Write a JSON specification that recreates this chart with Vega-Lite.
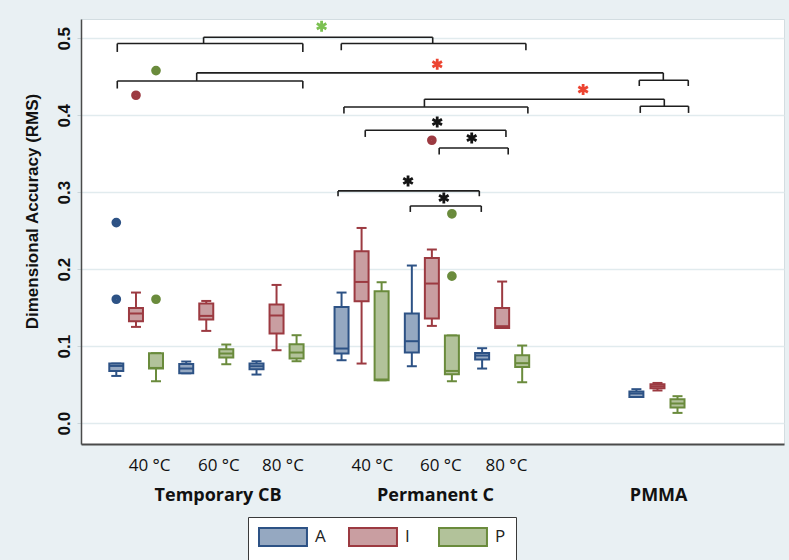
{
  "$schema": "https://vega.github.io/schema/vega-lite/v6.json",
  "width": 703,
  "height": 425,
  "autosize": {"type": "none"},
  "padding": {"left": 81, "top": 19, "right": 5, "bottom": 116},
  "config": {
    "background": "#e9f0f3",
    "view": {"fill": "white", "stroke": "#d3dde1", "strokeWidth": 1},
    "font": "Liberation Sans",
    "legend": {
      "title": null, "orient": "none", "direction": "horizontal", "legendX": 167, "legendY": 498,
      "strokeColor": "#3a3a3a", "fillColor": "white", "padding": 10, "gridAlign": "all",
      "symbolType": "M-1,-1H4.33V1H-1Z", "symbolSize": 324, "symbolStrokeWidth": 2, "symbolOpacity": 1,
      "labelFont": "Open Sans", "labelFontSize": 17, "labelColor": "#222222", "labelOffset": 37,
      "columnPadding": 19
    }
  },
  "datasets": {
    "boxes": [
      {"material": "Temporary CB", "temp": "40 °C", "series": "A", "pos": 0.72, "lo": 0.0614, "q1": 0.0679, "med": 0.0744, "q3": 0.0774, "hi": 0.0774},
      {"material": "Temporary CB", "temp": "40 °C", "series": "I", "pos": 1.0, "lo": 0.1251, "q1": 0.1325, "med": 0.1425, "q3": 0.1497, "hi": 0.1697},
      {"material": "Temporary CB", "temp": "40 °C", "series": "P", "pos": 1.285, "lo": 0.0545, "q1": 0.071, "med": 0.0718, "q3": 0.0909, "hi": 0.0909},
      {"material": "Temporary CB", "temp": "60 °C", "series": "A", "pos": 1.715, "lo": 0.0649, "q1": 0.0649, "med": 0.071, "q3": 0.077, "hi": 0.0801},
      {"material": "Temporary CB", "temp": "60 °C", "series": "I", "pos": 2.0, "lo": 0.1199, "q1": 0.1347, "med": 0.1394, "q3": 0.1555, "hi": 0.1588},
      {"material": "Temporary CB", "temp": "60 °C", "series": "P", "pos": 2.285, "lo": 0.0766, "q1": 0.0853, "med": 0.0905, "q3": 0.0961, "hi": 0.1022},
      {"material": "Temporary CB", "temp": "80 °C", "series": "A", "pos": 2.715, "lo": 0.0632, "q1": 0.0701, "med": 0.074, "q3": 0.0775, "hi": 0.0805},
      {"material": "Temporary CB", "temp": "80 °C", "series": "I", "pos": 3.0, "lo": 0.0948, "q1": 0.1165, "med": 0.1399, "q3": 0.1542, "hi": 0.1796},
      {"material": "Temporary CB", "temp": "80 °C", "series": "P", "pos": 3.285, "lo": 0.0805, "q1": 0.084, "med": 0.0918, "q3": 0.1026, "hi": 0.1143},
      {"material": "Permanent C", "temp": "40 °C", "series": "A", "pos": 3.925, "lo": 0.0818, "q1": 0.0905, "med": 0.097, "q3": 0.151, "hi": 0.1697},
      {"material": "Permanent C", "temp": "40 °C", "series": "I", "pos": 4.21, "lo": 0.0775, "q1": 0.1584, "med": 0.1835, "q3": 0.2234, "hi": 0.2536},
      {"material": "Permanent C", "temp": "40 °C", "series": "P", "pos": 4.495, "lo": 0.0558, "q1": 0.0558, "med": 0.0568, "q3": 0.1714, "hi": 0.1831},
      {"material": "Permanent C", "temp": "60 °C", "series": "A", "pos": 4.925, "lo": 0.074, "q1": 0.0918, "med": 0.1065, "q3": 0.1425, "hi": 0.2048},
      {"material": "Permanent C", "temp": "60 °C", "series": "I", "pos": 5.21, "lo": 0.1264, "q1": 0.136, "med": 0.1814, "q3": 0.2147, "hi": 0.2256},
      {"material": "Permanent C", "temp": "60 °C", "series": "P", "pos": 5.495, "lo": 0.0545, "q1": 0.0636, "med": 0.0679, "q3": 0.1139, "hi": 0.1139},
      {"material": "Permanent C", "temp": "80 °C", "series": "A", "pos": 5.925, "lo": 0.071, "q1": 0.0827, "med": 0.0879, "q3": 0.0913, "hi": 0.0974},
      {"material": "Permanent C", "temp": "80 °C", "series": "I", "pos": 6.21, "lo": 0.1238, "q1": 0.1238, "med": 0.126, "q3": 0.1497, "hi": 0.184},
      {"material": "Permanent C", "temp": "80 °C", "series": "P", "pos": 6.495, "lo": 0.0532, "q1": 0.0731, "med": 0.078, "q3": 0.0883, "hi": 0.1009},
      {"material": "PMMA", "temp": "", "series": "A", "pos": 8.12, "lo": 0.0342, "q1": 0.0342, "med": 0.0386, "q3": 0.0412, "hi": 0.0442},
      {"material": "PMMA", "temp": "", "series": "I", "pos": 8.42, "lo": 0.0425, "q1": 0.0455, "med": 0.048, "q3": 0.0506, "hi": 0.0523},
      {"material": "PMMA", "temp": "", "series": "P", "pos": 8.705, "lo": 0.0134, "q1": 0.0204, "med": 0.0256, "q3": 0.0312, "hi": 0.0351}
    ],
    "outliers": [
      {"series": "A", "pos": 0.72, "value": 0.2606},
      {"series": "A", "pos": 0.72, "value": 0.161},
      {"series": "I", "pos": 1.0, "value": 0.426},
      {"series": "P", "pos": 1.285, "value": 0.161},
      {"series": "P", "pos": 1.285, "value": 0.458},
      {"series": "I", "pos": 5.21, "value": 0.3675},
      {"series": "P", "pos": 5.495, "value": 0.272},
      {"series": "P", "pos": 5.495, "value": 0.191}
    ],
    "brackets": [
      {"x1": 0.734, "x2": 3.374, "y": 0.4931, "yl": 0.4822, "yr": 0.4822},
      {"x1": 3.921, "x2": 6.548, "y": 0.4931, "yl": 0.4844, "yr": 0.4844},
      {"x1": 1.962, "x2": 5.222, "y": 0.5013, "yl": 0.4931, "yr": 0.4931},
      {"x1": 0.734, "x2": 3.374, "y": 0.4445, "yl": 0.4347, "yr": 0.4347},
      {"x1": 1.864, "x2": 8.503, "y": 0.455, "yl": 0.4445, "yr": 0.4455},
      {"x1": 8.161, "x2": 8.858, "y": 0.4455, "yl": 0.438, "yr": 0.438},
      {"x1": 3.959, "x2": 6.576, "y": 0.4108, "yl": 0.4022, "yr": 0.4022},
      {"x1": 5.104, "x2": 8.517, "y": 0.4208, "yl": 0.4108, "yr": 0.4117},
      {"x1": 8.175, "x2": 8.862, "y": 0.4117, "yl": 0.403, "yr": 0.403},
      {"x1": 4.262, "x2": 6.264, "y": 0.3805, "yl": 0.3718, "yr": 0.3718},
      {"x1": 5.314, "x2": 6.296, "y": 0.3575, "yl": 0.349, "yr": 0.349},
      {"x1": 3.875, "x2": 5.885, "y": 0.3017, "yl": 0.2948, "yr": 0.2948},
      {"x1": 4.903, "x2": 5.913, "y": 0.2822, "yl": 0.2744, "yr": 0.2744}
    ],
    "stars": [
      {"x": 3.641, "y": 0.5156, "comparison": "between materials"},
      {"x": 5.286, "y": 0.4662, "comparison": "against PMMA"},
      {"x": 7.362, "y": 0.4334, "comparison": "against PMMA"},
      {"x": 5.286, "y": 0.3913, "comparison": "between temperatures"},
      {"x": 5.777, "y": 0.3705, "comparison": "between temperatures"},
      {"x": 4.871, "y": 0.3147, "comparison": "between temperatures"},
      {"x": 5.38, "y": 0.2926, "comparison": "between temperatures"}
    ],
    "labels": [
      {"text": "40 °C", "pos": 1.194, "level": "temp", "y": -0.0555},
      {"text": "60 °C", "pos": 2.18, "level": "temp", "y": -0.0555},
      {"text": "80 °C", "pos": 3.091, "level": "temp", "y": -0.0555},
      {"text": "40 °C", "pos": 4.363, "level": "temp", "y": -0.0555},
      {"text": "60 °C", "pos": 5.338, "level": "temp", "y": -0.0555},
      {"text": "80 °C", "pos": 6.271, "level": "temp", "y": -0.0555},
      {"text": "Temporary CB", "pos": 2.168, "level": "material", "y": -0.0945},
      {"text": "Permanent C", "pos": 5.261, "level": "material", "y": -0.0945},
      {"text": "PMMA", "pos": 8.437, "level": "material", "y": -0.0945}
    ]
  },
  "layer": [
    {
      "data": {"name": "boxes"},
      "mark": {"type": "rule", "strokeWidth": 2},
      "encoding": {
        "x": {"field": "pos", "type": "quantitative", "scale": {"domain": [0.289, 10.149], "nice": false, "zero": false},
              "axis": {"labels": false, "ticks": false, "grid": false, "title": null, "domainColor": "#4a4a4a", "domainWidth": 2}},
        "y": {"field": "lo", "type": "quantitative", "scale": {"domain": [-0.027, 0.525], "nice": false, "zero": false},
              "axis": {"values": [0, 0.1, 0.2, 0.3, 0.4, 0.5], "format": ".1f", "title": "Dimensional Accuracy (RMS)",
                       "titleFont": "Liberation Sans", "titleFontSize": 17, "titleFontWeight": "bold", "titleColor": "#111111", "titlePadding": 14, "titleY": 192,
                       "labelFont": "Liberation Sans", "labelFontSize": 17, "labelFontWeight": "bold", "labelColor": "#111111",
                       "labelAngle": -90, "labelAlign": "center", "labelBaseline": "bottom", "labelPadding": 4,
                       "grid": true, "gridColor": "#e1ebee", "gridWidth": 1.5,
                       "ticks": true, "tickSize": 4, "tickColor": "#c9d4d8",
                       "domainColor": "#4a4a4a", "domainWidth": 1.5}},
        "y2": {"field": "hi"},
        "stroke": {"field": "series", "type": "nominal", "scale": {"domain": ["A", "I", "P"], "range": ["#2d5285", "#9c3a41", "#6a8b3c"]}}
      }
    },
    {
      "data": {"name": "boxes"},
      "mark": {"type": "rule", "strokeWidth": 2, "xOffset": -5, "x2Offset": 5},
      "encoding": {
        "x": {"field": "pos", "type": "quantitative"},
        "x2": {"field": "pos"},
        "y": {"field": "lo", "type": "quantitative"},
        "stroke": {"field": "series", "type": "nominal"}
      }
    },
    {
      "data": {"name": "boxes"},
      "mark": {"type": "rule", "strokeWidth": 2, "xOffset": -5, "x2Offset": 5},
      "encoding": {
        "x": {"field": "pos", "type": "quantitative"},
        "x2": {"field": "pos"},
        "y": {"field": "hi", "type": "quantitative"},
        "stroke": {"field": "series", "type": "nominal"}
      }
    },
    {
      "data": {"name": "boxes"},
      "mark": {"type": "bar", "size": 14, "strokeWidth": 2, "fillOpacity": 1},
      "encoding": {
        "x": {"field": "pos", "type": "quantitative"},
        "y": {"field": "q1", "type": "quantitative"},
        "y2": {"field": "q3"},
        "fill": {"field": "series", "type": "nominal", "scale": {"domain": ["A", "I", "P"], "range": ["#95a8c1", "#c99ea1", "#b2c29a"]}},
        "stroke": {"field": "series", "type": "nominal"}
      }
    },
    {
      "data": {"name": "boxes"},
      "mark": {"type": "rule", "strokeWidth": 2, "xOffset": -7, "x2Offset": 7},
      "encoding": {
        "x": {"field": "pos", "type": "quantitative"},
        "x2": {"field": "pos"},
        "y": {"field": "med", "type": "quantitative"},
        "stroke": {"field": "series", "type": "nominal"}
      }
    },
    {
      "data": {"name": "outliers"},
      "mark": {"type": "point", "shape": "circle", "filled": false, "size": 22, "strokeWidth": 5, "opacity": 1},
      "encoding": {
        "x": {"field": "pos", "type": "quantitative"},
        "y": {"field": "value", "type": "quantitative"},
        "stroke": {"field": "series", "type": "nominal"}
      }
    },
    {
      "data": {"name": "brackets"},
      "mark": {"type": "rule", "strokeWidth": 1.6, "color": "#1e1e1e"},
      "encoding": {
        "x": {"field": "x1", "type": "quantitative"},
        "x2": {"field": "x2"},
        "y": {"field": "y", "type": "quantitative"}
      }
    },
    {
      "data": {"name": "brackets"},
      "mark": {"type": "rule", "strokeWidth": 1.6, "color": "#1e1e1e"},
      "encoding": {
        "x": {"field": "x1", "type": "quantitative"},
        "y": {"field": "y", "type": "quantitative"},
        "y2": {"field": "yl"}
      }
    },
    {
      "data": {"name": "brackets"},
      "mark": {"type": "rule", "strokeWidth": 1.6, "color": "#1e1e1e"},
      "encoding": {
        "x": {"field": "x2", "type": "quantitative"},
        "y": {"field": "y", "type": "quantitative"},
        "y2": {"field": "yr"}
      }
    },
    {
      "data": {"name": "stars"},
      "transform": [{"filter": "datum.comparison === 'between materials'"}],
      "mark": {"type": "point", "shape": "M0,-1L0,1M-0.87,-0.5L0.87,0.5M-0.87,0.5L0.87,-0.5", "filled": false, "size": 120, "strokeWidth": 2.8, "opacity": 1, "color": "#7cc152"},
      "encoding": {
        "x": {"field": "x", "type": "quantitative"},
        "y": {"field": "y", "type": "quantitative"}
      }
    },
    {
      "data": {"name": "stars"},
      "transform": [{"filter": "datum.comparison === 'against PMMA'"}],
      "mark": {"type": "point", "shape": "M0,-1L0,1M-0.87,-0.5L0.87,0.5M-0.87,0.5L0.87,-0.5", "filled": false, "size": 120, "strokeWidth": 2.8, "opacity": 1, "color": "#ec4431"},
      "encoding": {
        "x": {"field": "x", "type": "quantitative"},
        "y": {"field": "y", "type": "quantitative"}
      }
    },
    {
      "data": {"name": "stars"},
      "transform": [{"filter": "datum.comparison === 'between temperatures'"}],
      "mark": {"type": "point", "shape": "M0,-1L0,1M-0.87,-0.5L0.87,0.5M-0.87,0.5L0.87,-0.5", "filled": false, "size": 120, "strokeWidth": 2.8, "opacity": 1, "color": "#141414"},
      "encoding": {
        "x": {"field": "x", "type": "quantitative"},
        "y": {"field": "y", "type": "quantitative"}
      }
    },
    {
      "data": {"name": "labels"},
      "transform": [{"filter": "datum.level === 'temp'"}],
      "mark": {"type": "text", "font": "Open Sans", "fontSize": 17, "color": "#111111", "baseline": "middle", "align": "center"},
      "encoding": {
        "x": {"field": "pos", "type": "quantitative"},
        "y": {"field": "y", "type": "quantitative"},
        "text": {"field": "text"}
      }
    },
    {
      "data": {"name": "labels"},
      "transform": [{"filter": "datum.level === 'material'"}],
      "mark": {"type": "text", "font": "Open Sans", "fontSize": 18, "fontWeight": "bold", "color": "#111111", "baseline": "middle", "align": "center"},
      "encoding": {
        "x": {"field": "pos", "type": "quantitative"},
        "y": {"field": "y", "type": "quantitative"},
        "text": {"field": "text"}
      }
    }
  ]
}
